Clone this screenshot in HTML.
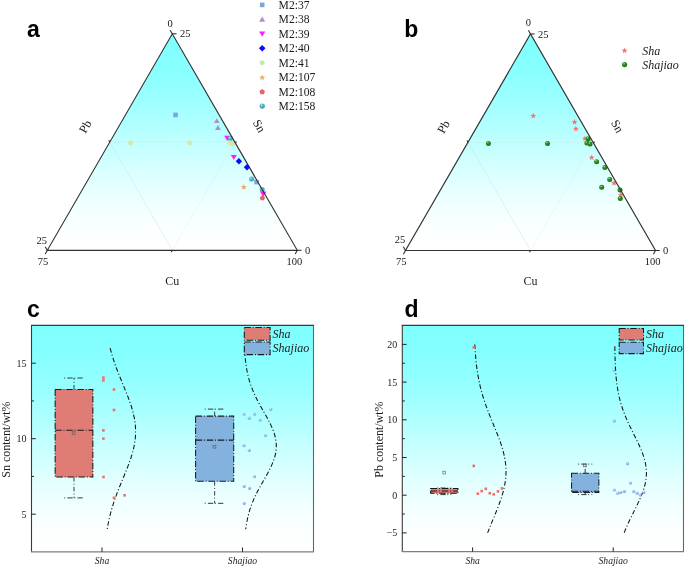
<!DOCTYPE html>
<html><head><meta charset="utf-8"><style>
html,body{margin:0;padding:0;background:#fff;width:685px;height:567px;overflow:hidden}
svg{display:block;will-change:transform}
</style></head><body>
<svg width="685" height="567" viewBox="0 0 685 567">
<defs>
<linearGradient id="gA" x1="0" y1="0" x2="0" y2="1"><stop offset="0.000" stop-color="rgb(128,255,255)"/><stop offset="0.050" stop-color="rgb(129,255,255)"/><stop offset="0.100" stop-color="rgb(132,255,255)"/><stop offset="0.150" stop-color="rgb(136,255,255)"/><stop offset="0.200" stop-color="rgb(141,255,255)"/><stop offset="0.250" stop-color="rgb(148,255,255)"/><stop offset="0.300" stop-color="rgb(155,255,255)"/><stop offset="0.350" stop-color="rgb(164,255,255)"/><stop offset="0.400" stop-color="rgb(173,255,255)"/><stop offset="0.450" stop-color="rgb(182,255,255)"/><stop offset="0.500" stop-color="rgb(192,255,255)"/><stop offset="0.550" stop-color="rgb(201,255,255)"/><stop offset="0.600" stop-color="rgb(210,255,255)"/><stop offset="0.650" stop-color="rgb(219,255,255)"/><stop offset="0.700" stop-color="rgb(228,255,255)"/><stop offset="0.750" stop-color="rgb(235,255,255)"/><stop offset="0.800" stop-color="rgb(242,255,255)"/><stop offset="0.850" stop-color="rgb(247,255,255)"/><stop offset="0.900" stop-color="rgb(251,255,255)"/><stop offset="0.950" stop-color="rgb(254,255,255)"/><stop offset="1.000" stop-color="rgb(255,255,255)"/></linearGradient>
<radialGradient id="sTeal" cx="0.38" cy="0.32" r="0.7"><stop offset="0" stop-color="#e4f6fa"/><stop offset="0.3" stop-color="#5cb8cc"/><stop offset="1" stop-color="#3a9eb6"/></radialGradient>
<radialGradient id="sGreen" cx="0.38" cy="0.32" r="0.7"><stop offset="0" stop-color="#c8e8b8"/><stop offset="0.3" stop-color="#2f921f"/><stop offset="1" stop-color="#1c7010"/></radialGradient>
<radialGradient id="sBlue" cx="0.38" cy="0.32" r="0.7"><stop offset="0" stop-color="#f2f7ff"/><stop offset="0.35" stop-color="#9cc0ee"/><stop offset="1" stop-color="#7a9edc"/></radialGradient>
</defs>

<polygon points="47.3,250.3 297.3,250.3 172.30,33.79" fill="url(#gA)"/>
<g stroke="#c6cccc" stroke-width="0.5" fill="none" stroke-dasharray="1 1.6"><line x1="109.80" y1="142.05" x2="234.80" y2="142.05"/></g>
<line x1="172.30" y1="250.30" x2="109.80" y2="142.05" stroke="#d0d4d4" stroke-width="0.6" stroke-dasharray="1.6 0.8"/>
<line x1="172.30" y1="250.30" x2="234.80" y2="142.05" stroke="#d2d6d6" stroke-width="0.55" stroke-dasharray="1 1.3"/>
<polygon points="405.5,250.5 655.5,250.5 530.50,33.99" fill="url(#gA)"/>
<g stroke="#c6cccc" stroke-width="0.5" fill="none" stroke-dasharray="1 1.6"><line x1="468.00" y1="142.25" x2="593.00" y2="142.25"/></g>
<line x1="530.50" y1="250.50" x2="468.00" y2="142.25" stroke="#d0d4d4" stroke-width="0.6" stroke-dasharray="1.6 0.8"/>
<line x1="530.50" y1="250.50" x2="593.00" y2="142.25" stroke="#d2d6d6" stroke-width="0.55" stroke-dasharray="1 1.3"/>
<g><polygon points="130.50,140.20 128.16,141.55 128.16,144.25 130.50,145.60 132.84,144.25 132.84,141.55" fill="#d2e8a6"/><polygon points="189.70,140.20 187.36,141.55 187.36,144.25 189.70,145.60 192.04,144.25 192.04,141.55" fill="#d2e8a6"/><rect x="173.20" y="112.60" width="4.6" height="4.6" fill="#7aa6dc"/><rect x="254.20" y="179.80" width="4.6" height="4.6" fill="#7aa6dc"/><polygon points="216.80,118.19 219.70,123.12 213.90,123.12" fill="#b48ec4"/><polygon points="217.90,125.09 220.80,130.02 215.00,130.02" fill="#b48ec4"/><polygon points="227.20,140.91 230.20,135.81 224.20,135.81" fill="#ff1cff"/><polygon points="233.80,160.00 236.80,154.91 230.80,154.91" fill="#ff1cff"/><polygon points="238.90,158.00 242.10,161.20 238.90,164.40 235.70,161.20" fill="#0a0aff"/><polygon points="243.80,184.00 242.95,186.04 240.76,186.21 242.43,187.64 241.92,189.79 243.80,188.64 245.68,189.79 245.17,187.64 246.84,186.21 244.65,186.04" fill="#f0ae6a"/><polygon points="262.40,195.30 259.74,197.23 260.75,200.37 264.05,200.37 265.06,197.23" fill="#e8645e"/><circle cx="230.40" cy="138.50" r="2.50" fill="url(#sTeal)"/><circle cx="251.60" cy="179.10" r="2.50" fill="url(#sTeal)"/><circle cx="262.20" cy="189.50" r="2.50" fill="url(#sTeal)"/><polygon points="263.20,196.99 266.50,191.38 259.90,191.38" fill="#ff1cff"/><polygon points="230.00,140.20 227.66,141.55 227.66,144.25 230.00,145.60 232.34,144.25 232.34,141.55" fill="#d2e8a6"/><polygon points="232.60,141.10 230.26,142.45 230.26,145.15 232.60,146.50 234.94,145.15 234.94,142.45" fill="#d2e8a6"/></g>
<rect x="259.90" y="2.60" width="4.6" height="4.6" fill="#7aa6dc"/>
<text x="278.6" y="8.90" font-family="Liberation Serif, serif" font-size="11.6" fill="#1a1a1a">M2:37</text>
<polygon points="262.20,16.55 265.20,21.66 259.20,21.66" fill="#b48ec4"/>
<text x="278.6" y="23.36" font-family="Liberation Serif, serif" font-size="11.6" fill="#1a1a1a">M2:38</text>
<polygon points="262.20,36.72 265.30,31.45 259.10,31.45" fill="#ff1cff"/>
<text x="278.6" y="37.82" font-family="Liberation Serif, serif" font-size="11.6" fill="#1a1a1a">M2:39</text>
<polygon points="262.20,44.98 265.50,48.28 262.20,51.58 258.90,48.28" fill="#0a0aff"/>
<text x="278.6" y="52.28" font-family="Liberation Serif, serif" font-size="11.6" fill="#1a1a1a">M2:40</text>
<polygon points="262.20,60.04 259.86,61.39 259.86,64.09 262.20,65.44 264.54,64.09 264.54,61.39" fill="#c4eaaa"/>
<text x="278.6" y="66.74" font-family="Liberation Serif, serif" font-size="11.6" fill="#1a1a1a">M2:41</text>
<polygon points="262.20,74.40 261.35,76.44 259.16,76.61 260.83,78.04 260.32,80.19 262.20,79.04 264.08,80.19 263.57,78.04 265.24,76.61 263.05,76.44" fill="#f0ae6a"/>
<text x="278.6" y="81.20" font-family="Liberation Serif, serif" font-size="11.6" fill="#1a1a1a">M2:107</text>
<polygon points="262.20,89.06 259.44,91.06 260.50,94.31 263.90,94.31 264.96,91.06" fill="#e8645e"/>
<text x="278.6" y="95.66" font-family="Liberation Serif, serif" font-size="11.6" fill="#1a1a1a">M2:108</text>
<circle cx="262.20" cy="106.12" r="2.70" fill="url(#sTeal)"/>
<text x="278.6" y="110.12" font-family="Liberation Serif, serif" font-size="11.6" fill="#1a1a1a">M2:158</text>
<g><polygon points="533.30,112.80 532.48,114.77 530.35,114.94 531.97,116.33 531.48,118.41 533.30,117.30 535.12,118.41 534.63,116.33 536.25,114.94 534.12,114.77" fill="#f07a72"/><polygon points="574.60,119.00 573.78,120.97 571.65,121.14 573.27,122.53 572.78,124.61 574.60,123.50 576.42,124.61 575.93,122.53 577.55,121.14 575.42,120.97" fill="#f07a72"/><polygon points="575.90,125.80 575.08,127.77 572.95,127.94 574.57,129.33 574.08,131.41 575.90,130.30 577.72,131.41 577.23,129.33 578.85,127.94 576.72,127.77" fill="#f07a72"/><polygon points="585.00,135.50 584.18,137.47 582.05,137.64 583.67,139.03 583.18,141.11 585.00,140.00 586.82,141.11 586.33,139.03 587.95,137.64 585.82,137.47" fill="#f07a72"/><polygon points="591.70,154.50 590.88,156.47 588.75,156.64 590.37,158.03 589.88,160.11 591.70,159.00 593.52,160.11 593.03,158.03 594.65,156.64 592.52,156.47" fill="#f07a72"/><polygon points="614.10,180.10 613.28,182.07 611.15,182.24 612.77,183.63 612.28,185.71 614.10,184.60 615.92,185.71 615.43,183.63 617.05,182.24 614.92,182.07" fill="#f07a72"/><polygon points="620.80,191.80 619.98,193.77 617.85,193.94 619.47,195.33 618.98,197.41 620.80,196.30 622.62,197.41 622.13,195.33 623.75,193.94 621.62,193.77" fill="#f07a72"/><circle cx="488.40" cy="143.40" r="2.50" fill="url(#sGreen)"/><circle cx="547.50" cy="143.40" r="2.50" fill="url(#sGreen)"/><circle cx="588.20" cy="138.70" r="2.50" fill="url(#sGreen)"/><circle cx="586.90" cy="143.10" r="2.50" fill="url(#sGreen)"/><circle cx="590.00" cy="144.00" r="2.50" fill="url(#sGreen)"/><circle cx="596.60" cy="161.70" r="2.50" fill="url(#sGreen)"/><circle cx="604.90" cy="167.50" r="2.50" fill="url(#sGreen)"/><circle cx="609.70" cy="179.40" r="2.50" fill="url(#sGreen)"/><circle cx="601.70" cy="187.30" r="2.50" fill="url(#sGreen)"/><circle cx="620.00" cy="190.00" r="2.50" fill="url(#sGreen)"/><circle cx="620.30" cy="198.50" r="2.50" fill="url(#sGreen)"/></g>
<polygon points="47.3,250.3 297.3,250.3 172.30,33.79" fill="none" stroke="#333" stroke-width="1.15" stroke-linejoin="miter"/>
<g stroke="#2a2a2a" stroke-width="1.05"><line x1="47.30" y1="250.30" x2="45.20" y2="253.94"/><line x1="172.30" y1="250.30" x2="171.30" y2="252.03"/><line x1="297.30" y1="250.30" x2="295.20" y2="253.94"/><line x1="297.30" y1="250.30" x2="301.50" y2="250.30"/><line x1="234.80" y1="142.05" x2="236.80" y2="142.05"/><line x1="172.30" y1="33.79" x2="176.50" y2="33.79"/><line x1="172.30" y1="33.79" x2="170.20" y2="30.16"/><line x1="109.80" y1="142.05" x2="108.80" y2="140.31"/><line x1="47.30" y1="250.30" x2="45.20" y2="246.66"/></g>
<g font-family="Liberation Serif, serif" font-size="10.5" fill="#1a1a1a">
<text x="170.10" y="26.99" text-anchor="middle">0</text>
<text x="179.90" y="37.39">25</text>
<text x="47.00" y="244.10" text-anchor="end">25</text>
<text x="43.00" y="265.10" text-anchor="middle">75</text>
<text x="304.90" y="253.90">0</text>
<text x="294.30" y="265.10" text-anchor="middle">100</text>
</g>
<g font-family="Liberation Serif, serif" font-size="12" fill="#1a1a1a" text-anchor="middle">
<text transform="translate(85.30,126.60) rotate(-60)" y="4">Pb</text>
<text transform="translate(259.20,126.00) rotate(60)" y="4">Sn</text>
<text x="172.30" y="284.80">Cu</text>
</g>
<text x="27.0" y="36.6" font-family="Liberation Sans, sans-serif" font-weight="bold" font-size="23" fill="#000">a</text>
<polygon points="247.00,164.00 250.20,167.20 247.00,170.40 243.80,167.20" fill="#0a0aff"/>
<polygon points="405.5,250.5 655.5,250.5 530.50,33.99" fill="none" stroke="#333" stroke-width="1.15" stroke-linejoin="miter"/>
<g stroke="#2a2a2a" stroke-width="1.05"><line x1="405.50" y1="250.50" x2="403.40" y2="254.14"/><line x1="530.50" y1="250.50" x2="529.50" y2="252.23"/><line x1="655.50" y1="250.50" x2="653.40" y2="254.14"/><line x1="655.50" y1="250.50" x2="659.70" y2="250.50"/><line x1="593.00" y1="142.25" x2="595.00" y2="142.25"/><line x1="530.50" y1="33.99" x2="534.70" y2="33.99"/><line x1="530.50" y1="33.99" x2="528.40" y2="30.36"/><line x1="468.00" y1="142.25" x2="467.00" y2="140.51"/><line x1="405.50" y1="250.50" x2="403.40" y2="246.86"/></g>
<g font-family="Liberation Serif, serif" font-size="10.5" fill="#1a1a1a">
<text x="528.30" y="26.39" text-anchor="middle">0</text>
<text x="538.10" y="37.59">25</text>
<text x="405.20" y="243.00" text-anchor="end">25</text>
<text x="401.20" y="265.30" text-anchor="middle">75</text>
<text x="663.10" y="254.10">0</text>
<text x="652.50" y="265.30" text-anchor="middle">100</text>
</g>
<g font-family="Liberation Serif, serif" font-size="12" fill="#1a1a1a" text-anchor="middle">
<text transform="translate(443.50,126.80) rotate(-60)" y="4">Pb</text>
<text transform="translate(617.40,126.20) rotate(60)" y="4">Sn</text>
<text x="530.50" y="285.00">Cu</text>
</g>
<text x="404.2" y="36.6" font-family="Liberation Sans, sans-serif" font-weight="bold" font-size="23" fill="#000">b</text>
<polygon points="624.60,47.60 623.78,49.57 621.65,49.74 623.27,51.13 622.78,53.21 624.60,52.09 626.42,53.21 625.93,51.13 627.55,49.74 625.42,49.57" fill="#f07a72"/>
<circle cx="624.60" cy="64.60" r="2.60" fill="url(#sGreen)"/>
<text x="642.2" y="54.6" font-family="Liberation Serif, serif" font-style="italic" font-size="12" fill="#1a1a1a">Sha</text>
<text x="642.2" y="68.8" font-family="Liberation Serif, serif" font-style="italic" font-size="12" fill="#1a1a1a">Shajiao</text>
<rect x="31.5" y="325.4" width="282.0" height="226.39999999999998" fill="url(#gA)"/>
<path d="M110.15,348.10L110.54,349.61L110.94,351.12L111.35,352.63L111.78,354.14L112.23,355.65L112.69,357.16L113.16,358.67L113.65,360.18L114.15,361.69L114.67,363.20L115.19,364.71L115.73,366.22L116.29,367.73L116.85,369.24L117.42,370.75L118.01,372.26L118.60,373.77L119.20,375.28L119.80,376.79L120.42,378.30L121.03,379.81L121.65,381.32L122.28,382.83L122.90,384.34L123.53,385.85L124.15,387.36L124.77,388.87L125.39,390.38L126.00,391.89L126.61,393.40L127.21,394.91L127.80,396.42L128.37,397.93L128.94,399.44L129.49,400.95L130.02,402.46L130.54,403.97L131.04,405.48L131.52,406.99L131.98,408.50L132.41,410.01L132.83,411.52L133.21,413.03L133.58,414.54L133.91,416.05L134.22,417.56L134.50,419.07L134.75,420.58L134.96,422.09L135.15,423.60L135.30,425.11L135.43,426.62L135.52,428.13L135.57,429.64L135.60,431.15L135.59,432.66L135.55,434.17L135.47,435.68L135.37,437.19L135.23,438.70L135.05,440.21L134.85,441.72L134.62,443.23L134.35,444.74L134.06,446.25L133.74,447.76L133.39,449.27L133.01,450.78L132.61,452.29L132.18,453.80L131.73,455.31L131.26,456.82L130.77,458.33L130.26,459.84L129.74,461.35L129.19,462.86L128.64,464.37L128.06,465.88L127.48,467.39L126.89,468.90L126.29,470.41L125.68,471.92L125.06,473.43L124.44,474.94L123.82,476.45L123.19,477.96L122.57,479.47L121.94,480.98L121.32,482.49L120.70,484.00L120.09,485.51L119.48,487.02L118.87,488.53L118.28,490.04L117.69,491.55L117.11,493.06L116.55,494.57L115.99,496.08L115.44,497.59L114.91,499.10L114.39,500.61L113.88,502.12L113.39,503.63L112.91,505.14L112.44,506.65L111.99,508.16L111.55,509.67L111.13,511.18L110.72,512.69L110.33,514.20L109.95,515.71L109.58,517.22L109.23,518.73L108.90,520.24L108.58,521.75L108.27,523.26L107.98,524.77L107.70,526.28L107.44,527.79L107.18,529.30" fill="none" stroke="#111" stroke-width="1.05" stroke-dasharray="4.6 2.2 1.1 2.2"/>
<path d="M244.58,348.10L244.65,349.61L244.74,351.12L244.83,352.63L244.93,354.14L245.05,355.65L245.17,357.16L245.31,358.67L245.46,360.18L245.63,361.69L245.81,363.20L246.01,364.71L246.23,366.22L246.46,367.73L246.72,369.24L246.99,370.75L247.29,372.26L247.61,373.77L247.95,375.28L248.32,376.79L248.71,378.30L249.13,379.81L249.57,381.32L250.04,382.83L250.54,384.34L251.07,385.85L251.62,387.36L252.20,388.87L252.81,390.38L253.44,391.89L254.10,393.40L254.79,394.91L255.50,396.42L256.24,397.93L256.99,399.44L257.77,400.95L258.57,402.46L259.38,403.97L260.21,405.48L261.04,406.99L261.89,408.50L262.75,410.01L263.60,411.52L264.46,413.03L265.31,414.54L266.16,416.05L267.00,417.56L267.82,419.07L268.62,420.58L269.40,422.09L270.16,423.60L270.89,425.11L271.59,426.62L272.25,428.13L272.87,429.64L273.44,431.15L273.97,432.66L274.46,434.17L274.89,435.68L275.26,437.19L275.58,438.70L275.85,440.21L276.05,441.72L276.20,443.23L276.28,444.74L276.30,446.25L276.26,447.76L276.16,449.27L275.99,450.78L275.77,452.29L275.48,453.80L275.15,455.31L274.75,456.82L274.30,458.33L273.80,459.84L273.26,461.35L272.66,462.86L272.03,464.37L271.36,465.88L270.65,467.39L269.91,468.90L269.15,470.41L268.36,471.92L267.55,473.43L266.72,474.94L265.88,476.45L265.03,477.96L264.18,479.47L263.32,480.98L262.46,482.49L261.61,484.00L260.77,485.51L259.93,487.02L259.11,488.53L258.30,490.04L257.51,491.55L256.74,493.06L255.99,494.57L255.26,496.08L254.56,497.59L253.88,499.10L253.23,500.61L252.60,502.12L252.00,503.63L251.43,505.14L250.89,506.65L250.37,508.16L249.88,509.67L249.42,511.18L248.99,512.69L248.58,514.20L248.19,515.71L247.84,517.22L247.50,518.73L247.19,520.24L246.90,521.75L246.63,523.26L246.38,524.77L246.15,526.28L245.94,527.79L245.75,529.30" fill="none" stroke="#111" stroke-width="1.05" stroke-dasharray="4.6 2.2 1.1 2.2"/>
<g stroke="#383838" stroke-width="1" fill="none"><line x1="74.00" y1="389.40" x2="74.00" y2="378.00" stroke-dasharray="4.4 2.2 1 2.2"/><line x1="74.00" y1="477.10" x2="74.00" y2="497.90" stroke-dasharray="4.4 2.2 1 2.2"/><line x1="64.20" y1="378.00" x2="83.80" y2="378.00" stroke-dasharray="1 2.2 5.3 1.6"/><line x1="64.20" y1="497.90" x2="83.80" y2="497.90" stroke-dasharray="1 2.2 5.3 1.6"/></g><rect x="55.15" y="389.40" width="37.70" height="87.70" fill="#e07c76" stroke="#1a1a1a" stroke-width="1.05" stroke-dasharray="6.5 1.8 1 1.8"/><line x1="55.15" y1="430.30" x2="92.85" y2="430.30" stroke="#1a1a1a" stroke-width="1.05" stroke-dasharray="6.5 1.8 1 1.8"/><rect x="72.20" y="431.80" width="2.8" height="2.8" fill="none" stroke="#555" stroke-width="0.6"/>
<g stroke="#383838" stroke-width="1" fill="none"><line x1="214.65" y1="416.10" x2="214.65" y2="409.10" stroke-dasharray="4.4 2.2 1 2.2"/><line x1="214.65" y1="481.30" x2="214.65" y2="503.30" stroke-dasharray="4.4 2.2 1 2.2"/><line x1="204.74" y1="409.10" x2="224.56" y2="409.10" stroke-dasharray="1 2.2 5.3 1.6"/><line x1="204.74" y1="503.30" x2="224.56" y2="503.30" stroke-dasharray="1 2.2 5.3 1.6"/></g><rect x="195.60" y="416.10" width="38.10" height="65.20" fill="#84b2df" stroke="#1a1a1a" stroke-width="1.05" stroke-dasharray="6.5 1.8 1 1.8"/><line x1="195.60" y1="440.10" x2="233.70" y2="440.10" stroke="#1a1a1a" stroke-width="1.05" stroke-dasharray="6.5 1.8 1 1.8"/><rect x="213.10" y="445.30" width="2.8" height="2.8" fill="none" stroke="#555" stroke-width="0.6"/>
<g fill="#ef7069"><rect x="102.10" y="376.30" width="2.6" height="2.6"/><rect x="102.10" y="379.10" width="2.6" height="2.6"/><rect x="112.70" y="388.20" width="2.6" height="2.6"/><rect x="112.70" y="408.70" width="2.6" height="2.6"/><rect x="102.10" y="429.10" width="2.6" height="2.6"/><rect x="102.10" y="437.30" width="2.6" height="2.6"/><rect x="102.20" y="475.70" width="2.6" height="2.6"/><rect x="112.70" y="496.50" width="2.6" height="2.6"/><rect x="123.30" y="494.00" width="2.6" height="2.6"/></g>
<g><circle cx="244.00" cy="414.10" r="1.60" fill="url(#sBlue)"/><circle cx="249.30" cy="418.20" r="1.60" fill="url(#sBlue)"/><circle cx="254.60" cy="414.10" r="1.60" fill="url(#sBlue)"/><circle cx="260.10" cy="420.10" r="1.60" fill="url(#sBlue)"/><circle cx="270.80" cy="409.30" r="1.60" fill="url(#sBlue)"/><circle cx="265.50" cy="435.50" r="1.60" fill="url(#sBlue)"/><circle cx="244.00" cy="445.60" r="1.60" fill="url(#sBlue)"/><circle cx="249.30" cy="450.30" r="1.60" fill="url(#sBlue)"/><circle cx="254.60" cy="476.60" r="1.60" fill="url(#sBlue)"/><circle cx="244.20" cy="486.30" r="1.60" fill="url(#sBlue)"/><circle cx="249.60" cy="488.40" r="1.60" fill="url(#sBlue)"/><circle cx="244.20" cy="503.40" r="1.60" fill="url(#sBlue)"/></g>
<rect x="244.30" y="327.50" width="25.8" height="12.7" fill="#e07c76" stroke="#1a1a1a" stroke-width="1.05" stroke-dasharray="6.5 1.8 1 1.8"/>
<rect x="244.30" y="341.90" width="25.8" height="12.7" fill="#84b2df" stroke="#1a1a1a" stroke-width="1.05" stroke-dasharray="6.5 1.8 1 1.8"/>
<text x="272.60" y="338.05" font-family="Liberation Serif, serif" font-style="italic" font-size="12" fill="#1a1a1a">Sha</text>
<text x="272.60" y="352.45" font-family="Liberation Serif, serif" font-style="italic" font-size="12" fill="#1a1a1a">Shajiao</text>
<line x1="313.5" y1="325.4" x2="313.5" y2="551.8" stroke="#666" stroke-width="1.1"/>
<line x1="30.95" y1="325.4" x2="314.05" y2="325.4" stroke="#3a3a3a" stroke-width="1.1"/>
<line x1="31.5" y1="325.4" x2="31.5" y2="551.8" stroke="#3a3a3a" stroke-width="1.1"/>
<line x1="30.95" y1="551.8" x2="314.05" y2="551.8" stroke="#7e7e7e" stroke-width="1.3"/>
<g stroke="#222" stroke-width="1"><line x1="31.5" y1="363.20" x2="35.8" y2="363.20"/><line x1="31.5" y1="438.70" x2="35.8" y2="438.70"/><line x1="31.5" y1="514.20" x2="35.8" y2="514.20"/><line x1="31.5" y1="400.95" x2="34.0" y2="400.95"/><line x1="31.5" y1="476.45" x2="34.0" y2="476.45"/><line x1="102.00" y1="551.8" x2="102.00" y2="547.5"/><line x1="242.50" y1="551.8" x2="242.50" y2="547.5"/></g>
<g font-family="Liberation Serif, serif" font-size="10" fill="#222" text-anchor="end">
<text x="26.50" y="366.60">15</text>
<text x="26.50" y="442.10">10</text>
<text x="26.50" y="517.60">5</text>
</g>
<g font-family="Liberation Serif, serif" font-size="9.6" font-style="italic" fill="#222" text-anchor="middle">
<text x="102.00" y="563.60">Sha</text>
<text x="242.50" y="563.60">Shajiao</text>
</g>
<text transform="translate(10.20,439.60) rotate(-90)" text-anchor="middle" font-family="Liberation Serif, serif" font-size="12" fill="#1a1a1a">Sn content/wt%</text>
<text x="27.0" y="317.2" font-family="Liberation Sans, sans-serif" font-weight="bold" font-size="23" fill="#000">c</text>
<rect x="402.3" y="325.4" width="281.2" height="226.30000000000007" fill="url(#gA)"/>
<path d="M474.83,344.40L474.90,345.97L474.99,347.54L475.08,349.11L475.18,350.68L475.28,352.25L475.39,353.82L475.51,355.40L475.64,356.97L475.78,358.54L475.93,360.11L476.09,361.68L476.26,363.25L476.43,364.82L476.63,366.39L476.83,367.96L477.04,369.53L477.27,371.10L477.51,372.67L477.76,374.25L478.03,375.82L478.31,377.39L478.61,378.96L478.92,380.53L479.24,382.10L479.58,383.67L479.94,385.24L480.31,386.81L480.70,388.38L481.10,389.95L481.52,391.52L481.96,393.10L482.41,394.67L482.88,396.24L483.36,397.81L483.86,399.38L484.37,400.95L484.90,402.52L485.44,404.09L486.00,405.66L486.56,407.23L487.14,408.80L487.74,410.38L488.34,411.95L488.95,413.52L489.57,415.09L490.20,416.66L490.83,418.23L491.47,419.80L492.12,421.37L492.77,422.94L493.41,424.51L494.06,426.08L494.71,427.65L495.35,429.22L495.99,430.80L496.63,432.37L497.25,433.94L497.87,435.51L498.47,437.08L499.07,438.65L499.64,440.22L500.21,441.79L500.75,443.36L501.28,444.93L501.78,446.50L502.26,448.07L502.72,449.65L503.15,451.22L503.56,452.79L503.94,454.36L504.29,455.93L504.61,457.50L504.90,459.07L505.16,460.64L505.38,462.21L505.57,463.78L505.73,465.35L505.85,466.92L505.93,468.50L505.99,470.07L506.00,471.64L505.98,473.21L505.92,474.78L505.83,476.35L505.70,477.92L505.54,479.49L505.34,481.06L505.11,482.63L504.85,484.20L504.56,485.77L504.23,487.35L503.88,488.92L503.49,490.49L503.08,492.06L502.64,493.63L502.18,495.20L501.69,496.77L501.18,498.34L500.66,499.91L500.11,501.48L499.54,503.05L498.96,504.62L498.37,506.20L497.76,507.77L497.14,509.34L496.52,510.91L495.88,512.48L495.24,514.05L494.60,515.62L493.95,517.19L493.30,518.76L492.65,520.33L492.01,521.90L491.36,523.47L490.72,525.05L490.09,526.62L489.46,528.19L488.84,529.76L488.23,531.33L487.63,532.90" fill="none" stroke="#111" stroke-width="1.05" stroke-dasharray="4.6 2.2 1.1 2.2"/>
<path d="M614.84,346.30L614.86,347.86L614.88,349.41L614.91,350.97L614.94,352.52L614.97,354.07L615.00,355.63L615.04,357.19L615.09,358.74L615.14,360.30L615.19,361.85L615.25,363.41L615.32,364.96L615.39,366.51L615.47,368.07L615.56,369.62L615.66,371.18L615.77,372.74L615.88,374.29L616.01,375.85L616.15,377.40L616.30,378.95L616.47,380.51L616.65,382.06L616.84,383.62L617.05,385.18L617.27,386.73L617.52,388.29L617.78,389.84L618.05,391.39L618.35,392.95L618.67,394.50L619.00,396.06L619.36,397.62L619.74,399.17L620.14,400.73L620.57,402.28L621.01,403.83L621.48,405.39L621.98,406.94L622.49,408.50L623.03,410.06L623.59,411.61L624.17,413.16L624.78,414.72L625.41,416.27L626.05,417.83L626.72,419.38L627.41,420.94L628.11,422.50L628.83,424.05L629.56,425.61L630.30,427.16L631.06,428.71L631.82,430.27L632.59,431.82L633.37,433.38L634.14,434.94L634.92,436.49L635.69,438.04L636.46,439.60L637.22,441.15L637.96,442.71L638.69,444.26L639.41,445.82L640.10,447.38L640.77,448.93L641.42,450.49L642.03,452.04L642.62,453.60L643.17,455.15L643.68,456.70L644.16,458.26L644.59,459.81L644.99,461.37L645.33,462.93L645.63,464.48L645.89,466.03L646.09,467.59L646.24,469.14L646.34,470.70L646.39,472.25L646.39,473.81L646.34,475.37L646.24,476.92L646.08,478.48L645.88,480.03L645.62,481.58L645.32,483.14L644.97,484.69L644.58,486.25L644.14,487.81L643.66,489.36L643.15,490.91L642.59,492.47L642.01,494.02L641.39,495.58L640.74,497.13L640.07,498.69L639.38,500.25L638.66,501.80L637.93,503.35L637.18,504.91L636.43,506.46L635.66,508.02L634.89,509.57L634.11,511.13L633.34,512.68L632.56,514.24L631.79,515.79L631.03,517.35L630.27,518.90L629.53,520.46L628.80,522.01L628.08,523.57L627.38,525.12L626.69,526.68L626.03,528.24L625.38,529.79L624.75,531.35L624.15,532.90" fill="none" stroke="#111" stroke-width="1.05" stroke-dasharray="4.6 2.2 1.1 2.2"/>
<g stroke="#383838" stroke-width="1" fill="none"><line x1="444.30" y1="488.50" x2="444.30" y2="488.00" stroke-dasharray="4.4 2.2 1 2.2"/><line x1="444.30" y1="493.30" x2="444.30" y2="494.60" stroke-dasharray="4.4 2.2 1 2.2"/><line x1="437.20" y1="488.00" x2="451.40" y2="488.00" stroke-dasharray="1 2.2 5.3 1.6"/><line x1="437.20" y1="494.60" x2="451.40" y2="494.60" stroke-dasharray="1 2.2 5.3 1.6"/></g><rect x="430.65" y="488.50" width="27.30" height="4.80" fill="#e07c76" stroke="#1a1a1a" stroke-width="1.05" stroke-dasharray="6.5 1.8 1 1.8"/><line x1="430.65" y1="491.00" x2="457.95" y2="491.00" stroke="#1a1a1a" stroke-width="1.05" stroke-dasharray="6.5 1.8 1 1.8"/><rect x="442.90" y="471.20" width="2.8" height="2.8" fill="none" stroke="#555" stroke-width="0.6"/>
<g stroke="#383838" stroke-width="1" fill="none"><line x1="585.20" y1="473.30" x2="585.20" y2="464.10" stroke-dasharray="4.4 2.2 1 2.2"/><line x1="585.20" y1="492.60" x2="585.20" y2="494.60" stroke-dasharray="4.4 2.2 1 2.2"/><line x1="578.10" y1="464.10" x2="592.30" y2="464.10" stroke-dasharray="1 2.2 5.3 1.6"/><line x1="578.10" y1="494.60" x2="592.30" y2="494.60" stroke-dasharray="1 2.2 5.3 1.6"/></g><rect x="571.55" y="473.30" width="27.30" height="19.30" fill="#84b2df" stroke="#1a1a1a" stroke-width="1.05" stroke-dasharray="6.5 1.8 1 1.8"/><line x1="571.55" y1="491.20" x2="598.85" y2="491.20" stroke="#1a1a1a" stroke-width="1.05" stroke-dasharray="6.5 1.8 1 1.8"/><rect x="583.50" y="464.00" width="2.8" height="2.8" fill="none" stroke="#555" stroke-width="0.6"/>
<g fill="#ef7069"><rect x="472.50" y="346.00" width="2.6" height="2.6"/><rect x="472.50" y="464.60" width="2.6" height="2.6"/><rect x="476.50" y="492.40" width="2.6" height="2.6"/><rect x="480.40" y="489.80" width="2.6" height="2.6"/><rect x="484.50" y="487.50" width="2.6" height="2.6"/><rect x="488.50" y="491.90" width="2.6" height="2.6"/><rect x="492.40" y="493.10" width="2.6" height="2.6"/><rect x="496.70" y="490.10" width="2.6" height="2.6"/><rect x="500.70" y="487.10" width="2.6" height="2.6"/></g>
<g><circle cx="613.90" cy="370.10" r="1.60" fill="url(#sBlue)"/><circle cx="614.30" cy="420.90" r="1.60" fill="url(#sBlue)"/><circle cx="627.50" cy="463.70" r="1.60" fill="url(#sBlue)"/><circle cx="630.50" cy="483.00" r="1.60" fill="url(#sBlue)"/><circle cx="614.30" cy="490.00" r="1.60" fill="url(#sBlue)"/><circle cx="617.80" cy="493.20" r="1.60" fill="url(#sBlue)"/><circle cx="620.80" cy="492.30" r="1.60" fill="url(#sBlue)"/><circle cx="624.40" cy="491.40" r="1.60" fill="url(#sBlue)"/><circle cx="633.70" cy="491.40" r="1.60" fill="url(#sBlue)"/><circle cx="637.10" cy="493.20" r="1.60" fill="url(#sBlue)"/><circle cx="640.20" cy="495.00" r="1.60" fill="url(#sBlue)"/><circle cx="643.80" cy="492.30" r="1.60" fill="url(#sBlue)"/></g>
<rect x="619.20" y="328.50" width="24.3" height="11.4" fill="#e07c76" stroke="#1a1a1a" stroke-width="1.05" stroke-dasharray="6.5 1.8 1 1.8"/>
<rect x="619.20" y="342.20" width="24.3" height="11.4" fill="#84b2df" stroke="#1a1a1a" stroke-width="1.05" stroke-dasharray="6.5 1.8 1 1.8"/>
<text x="646.00" y="338.40" font-family="Liberation Serif, serif" font-style="italic" font-size="12" fill="#1a1a1a">Sha</text>
<text x="646.00" y="352.10" font-family="Liberation Serif, serif" font-style="italic" font-size="12" fill="#1a1a1a">Shajiao</text>
<line x1="683.5" y1="325.4" x2="683.5" y2="551.7" stroke="#666" stroke-width="1.1"/>
<line x1="401.75" y1="325.4" x2="684.05" y2="325.4" stroke="#3a3a3a" stroke-width="1.1"/>
<line x1="402.3" y1="325.4" x2="402.3" y2="551.7" stroke="#3a3a3a" stroke-width="1.1"/>
<line x1="401.75" y1="551.7" x2="684.05" y2="551.7" stroke="#7e7e7e" stroke-width="1.3"/>
<g stroke="#222" stroke-width="1"><line x1="402.3" y1="344.40" x2="406.6" y2="344.40"/><line x1="402.3" y1="382.10" x2="406.6" y2="382.10"/><line x1="402.3" y1="419.80" x2="406.6" y2="419.80"/><line x1="402.3" y1="457.50" x2="406.6" y2="457.50"/><line x1="402.3" y1="495.20" x2="406.6" y2="495.20"/><line x1="402.3" y1="532.90" x2="406.6" y2="532.90"/><line x1="402.3" y1="363.25" x2="404.8" y2="363.25"/><line x1="402.3" y1="400.95" x2="404.8" y2="400.95"/><line x1="402.3" y1="438.65" x2="404.8" y2="438.65"/><line x1="402.3" y1="476.35" x2="404.8" y2="476.35"/><line x1="402.3" y1="514.05" x2="404.8" y2="514.05"/><line x1="472.60" y1="551.7" x2="472.60" y2="547.4000000000001"/><line x1="613.20" y1="551.7" x2="613.20" y2="547.4000000000001"/></g>
<g font-family="Liberation Serif, serif" font-size="10" fill="#222" text-anchor="end">
<text x="397.30" y="347.80">20</text>
<text x="397.30" y="385.50">15</text>
<text x="397.30" y="423.20">10</text>
<text x="397.30" y="460.90">5</text>
<text x="397.30" y="498.60">0</text>
<text x="397.30" y="536.30">−5</text>
</g>
<g font-family="Liberation Serif, serif" font-size="9.6" font-style="italic" fill="#222" text-anchor="middle">
<text x="472.60" y="563.50">Sha</text>
<text x="613.20" y="563.50">Shajiao</text>
</g>
<text transform="translate(383.40,439.55) rotate(-90)" text-anchor="middle" font-family="Liberation Serif, serif" font-size="12" fill="#1a1a1a">Pb content/wt%</text>
<text x="404.6" y="317.2" font-family="Liberation Sans, sans-serif" font-weight="bold" font-size="23" fill="#000">d</text>
</svg></body></html>
